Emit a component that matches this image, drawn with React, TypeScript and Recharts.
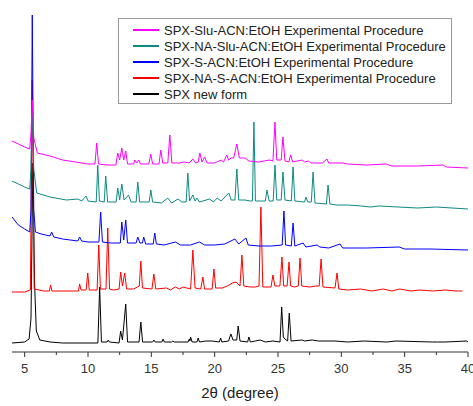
import React from "react";
import { LineChart, Line, XAxis, YAxis, Legend } from "recharts";

// 2θ (degree) vs intensity, one list per pattern
const BLACK_PTS: [number, number][] = [
  [4, 0], [5, 1], [5.35, 4], [5.5, 25], [5.65, 180], [5.78, 60], [5.92, 12], [6.2, 3], [7, 1], [8, 0],
  [10.78, 0], [10.92, 56], [11.06, 1], [11.5, 1], [11.6, 3], [11.7, 1], [12.45, 0], [12.58, 12], [12.72, 3],
  [12.98, 39], [13.12, 1], [14.03, 1], [14.17, 21], [14.31, 1], [15.1, 1], [15.2, 3], [15.3, 1], [15.83, 1],
  [15.93, 4], [16.03, 1], [16.6, 1], [16.7, 2], [16.8, 1], [17.9, 1], [18.0, 4], [18.05, 2], [18.1, 6],
  [18.22, 1], [18.6, 1], [18.7, 5], [18.8, 1], [19.3, 2], [19.8, 2], [20.37, 1], [20.47, 5], [20.57, 1],
  [21.1, 2], [21.28, 9], [21.45, 3], [21.74, 3], [21.86, 17], [22.0, 2], [22.6, 1], [22.7, 6], [22.82, 1],
  [23.2, 2], [23.6, 3], [24.0, 1], [24.6, 2], [25.16, 1], [25.29, 36], [25.42, 6], [25.55, 4], [25.76, 2],
  [25.89, 30], [26.03, 2], [26.9, 3], [27.1, 2], [27.7, 3], [28.2, 2], [29.5, 2], [30.5, 1], [31.8, 2],
  [33.6, 1], [34.3, 2], [37.2, 1], [37.6, 1], [38.2, 1], [39.9, 2], [40, 1],
];

const RED_PTS: [number, number][] = [
  [4, 0], [5, 0], [5.45, 2], [5.6, 212], [5.75, 3], [6.5, 1], [6.95, 1], [7.05, 7], [7.15, 1], [8.5, 1],
  [9.25, 1], [9.34, 8], [9.45, 2], [9.85, 2], [9.98, 19], [10.1, 2], [10.72, 2], [10.85, 47], [10.98, 3],
  [11.42, 3], [11.56, 64], [11.7, 3], [12.0, 2], [12.45, 3], [12.58, 20], [12.72, 6], [12.9, 19], [13.05, 3],
  [13.6, 3], [13.9, 5], [14.05, 6], [14.17, 31], [14.3, 4], [15.05, 3], [15.2, 18], [15.35, 3], [16.2, 4],
  [16.5, 2], [16.9, 5], [17.2, 3], [17.5, 5], [18.1, 3], [18.28, 42], [18.45, 4], [18.9, 3], [19.07, 15],
  [19.2, 3], [19.8, 3], [19.94, 23], [20.08, 4], [20.6, 4], [21.0, 6], [21.4, 9], [21.7, 10], [22.0, 6],
  [22.15, 37], [22.3, 6], [22.8, 5], [23.2, 5], [23.5, 6], [23.65, 85], [23.8, 5], [24.45, 5], [24.6, 17],
  [24.75, 6], [25.15, 6], [25.31, 35], [25.45, 6], [25.72, 6], [25.87, 30], [26.0, 6], [26.3, 5], [26.6, 6],
  [26.74, 34], [26.88, 6], [27.5, 5], [28.0, 6], [28.25, 6], [28.4, 33], [28.55, 5], [29.5, 4], [29.66, 19],
  [29.8, 3], [30.5, 2], [31.5, 3], [32.4, 1], [33.3, 3], [34.0, 1], [34.6, 3], [35.5, 1], [36.2, 2],
  [37.2, 1], [38.2, 2], [39.0, 1], [39.56, 1],
];

const BLUE_PTS: [number, number][] = [
  [4, 33], [4.5, 25], [5, 21], [5.4, 18], [5.5, 40], [5.6, 235], [5.72, 40], [5.85, 18], [6.3, 16], [7.0, 14],
  [7.13, 18], [7.3, 13], [8.0, 11], [9.2, 9], [9.34, 13], [9.5, 9], [10.0, 8], [10.86, 8], [11.0, 38],
  [11.14, 8], [11.8, 7], [12.55, 7], [12.67, 28], [12.82, 10], [12.98, 30], [13.12, 7], [13.8, 7],
  [13.93, 13], [14.1, 7], [14.3, 7], [14.4, 13], [14.55, 6], [15.15, 6], [15.27, 17], [15.4, 6], [16.0, 5],
  [16.9, 8], [17.3, 5], [18.1, 5], [18.8, 8], [19.2, 5], [20.0, 5], [20.8, 6], [21.6, 11], [21.9, 6],
  [22.47, 12], [22.65, 5], [23.5, 4], [24.5, 4], [25.33, 5], [25.47, 39], [25.6, 5], [26.05, 4], [26.19, 27],
  [26.33, 4], [26.98, 7], [27.2, 3], [28.09, 5], [28.3, 3], [29.0, 2], [29.9, 6], [30.1, 2], [32, 2],
  [34.56, 3], [35, 1], [37, 1], [40, 0],
];

const TEAL_PTS: [number, number][] = [
  [4, 28], [4.5, 25], [5, 22], [5.4, 20], [5.5, 40], [5.6, 109], [5.72, 40], [5.95, 16], [7.0, 12], [8.3, 9],
  [9.2, 10], [9.5, 8], [9.85, 13], [10.0, 8], [10.65, 7], [10.77, 44], [10.9, 8], [11.28, 7], [11.4, 33],
  [11.55, 7], [12.22, 7], [12.35, 21], [12.5, 9], [12.67, 25], [12.85, 9], [13.2, 14], [13.4, 7], [13.8, 7],
  [13.93, 27], [14.08, 7], [14.83, 7], [14.96, 19], [15.1, 7], [15.8, 6], [16.3, 11], [16.6, 6], [17.1, 10],
  [17.4, 7], [17.75, 7], [17.88, 36], [18.02, 8], [18.28, 14], [18.45, 8], [18.6, 11], [18.8, 7], [19.6, 10],
  [19.9, 7], [20.2, 11], [20.5, 8], [21.12, 16], [21.3, 9], [21.6, 9], [21.75, 40], [21.9, 9], [22.4, 9],
  [22.8, 8], [22.98, 8], [23.1, 87], [23.22, 8], [24.0, 8], [24.13, 19], [24.3, 8], [24.62, 8], [24.76, 44],
  [24.9, 9], [25.25, 9], [25.39, 37], [25.55, 9], [26.05, 8], [26.19, 42], [26.33, 8], [27.1, 7], [27.21, 12],
  [27.35, 7], [27.63, 7], [27.77, 37], [27.92, 6], [28.82, 5], [28.95, 24], [29.1, 5], [29.6, 4], [30.5, 4],
  [31.6, 3], [32.3, 2], [33, 3], [34.5, 2], [36, 1], [37.5, 2], [40, 0],
];

const MAGENTA_PTS: [number, number][] = [
  [4, 27], [4.5, 24], [5, 21], [5.4, 19], [5.5, 35], [5.6, 68], [5.72, 30], [6.0, 15], [7, 12], [8, 8],
  [9, 6], [10, 4], [10.55, 4], [10.69, 25], [10.83, 4], [11.5, 3], [12.2, 3], [12.35, 15], [12.5, 8],
  [12.67, 20], [12.82, 8], [12.98, 17], [13.12, 4], [13.6, 4], [13.7, 8], [13.85, 5], [14.0, 8], [14.15, 4],
  [14.8, 4], [14.96, 14], [15.1, 4], [15.6, 4], [15.75, 18], [15.9, 5], [16.3, 5], [16.46, 33], [16.62, 5],
  [17.2, 5], [17.6, 6], [18.0, 5], [18.28, 9], [18.5, 5], [18.7, 6], [18.83, 15], [19.0, 6], [19.2, 11],
  [19.4, 5], [20.0, 5], [20.5, 8], [20.7, 6], [20.96, 13], [21.1, 8], [21.3, 10], [21.5, 10], [21.75, 24],
  [21.95, 10], [22.4, 10], [22.7, 7], [23.5, 6], [24.3, 8], [24.6, 7], [24.76, 46], [24.9, 8], [25.25, 8],
  [25.39, 31], [25.55, 7], [25.85, 6], [26.0, 13], [26.15, 6], [26.9, 8], [27.1, 6], [27.4, 7], [27.6, 5],
  [28.5, 5], [28.87, 9], [29.0, 5], [30.13, 5], [30.5, 4], [32, 3], [33.53, 4], [34, 2], [36, 2],
  [38.04, 3], [38.3, 1], [40, 0],
];

const XTICKS = [5, 7.5, 10, 12.5, 15, 17.5, 20, 22.5, 25, 27.5, 30, 32.5, 35, 37.5, 40];

// legend order, top to bottom
const SERIES = [
  { name: "SPX-Slu-ACN:EtOH Experimental Procedure", color: "#ff00ff", pts: MAGENTA_PTS, offset: 184 },
  { name: "SPX-NA-Slu-ACN:EtOH Experimental Procedure", color: "#0f8a80", pts: TEAL_PTS, offset: 143 },
  { name: "SPX-S-ACN:EtOH Experimental Procedure", color: "#0000ff", pts: BLUE_PTS, offset: 102 },
  { name: "SPX-NA-S-ACN:EtOH Experimental Procedure", color: "#ff0000", pts: RED_PTS, offset: 60 },
  { name: "SPX new form", color: "#000000", pts: BLACK_PTS, offset: 9 },
];

const FONT = "'Liberation Sans', Arial, sans-serif";

const Tick = (props: any) => {
  const { x, y, payload } = props;
  const major = payload.value % 5 === 0;
  return (
    <g>
      <line x1={x} x2={x} y1={y} y2={y + (major ? 5 : 3)} stroke="#333" />
      {major && (
        <text x={x} y={y + 21} textAnchor="middle" fontSize={13} fill="#333" fontFamily={FONT}>
          {payload.value}
        </text>
      )}
    </g>
  );
};

const LegendBox = () => (
  <div
    style={{
      width: 332,
      height: 81,
      border: "1px solid #999",
      background: "#fff",
      paddingTop: 3,
      boxSizing: "content-box",
      fontFamily: FONT,
      fontSize: 13,
      color: "#222",
    }}
  >
    {SERIES.map((s) => (
      <div key={s.name} style={{ display: "flex", alignItems: "center", height: 16 }}>
        <div style={{ width: 26, height: 1.3, background: s.color, marginLeft: 14, marginRight: 5 }} />
        <span style={{ whiteSpace: "nowrap" }}>{s.name}</span>
      </div>
    ))}
  </div>
);

export default function App() {
  const drawOrder = [...SERIES].reverse();
  return (
    <div style={{ position: "absolute", left: 0, top: 0, background: "#fff" }}>
      <LineChart
        width={473}
        height={406}
        margin={{ top: 10, right: 5, bottom: 0, left: 12 }}
        style={{ fontFamily: FONT }}
      >
        <XAxis
          dataKey="x"
          type="number"
          domain={[4, 40]}
          ticks={XTICKS}
          interval={0}
          allowDataOverflow
          height={54}
          tickSize={0}
          tickMargin={0}
          tickLine={false}
          tick={<Tick />}
          axisLine={{ stroke: "#333" }}
          label={{
            value: "2θ (degree)",
            position: "insideBottom",
            offset: 8,
            fontSize: 15,
            fill: "#222",
            fontFamily: FONT,
          }}
        />
        <YAxis hide type="number" domain={[0, 342]} allowDataOverflow />
        <Legend
          layout="horizontal"
          verticalAlign="middle"
          align="center"
          content={<LegendBox />}
          wrapperStyle={{ position: "absolute", left: 118, top: 18, width: 336 }}
        />
        {drawOrder.map((s) => (
          <Line
            key={s.name}
            name={s.name}
            data={s.pts.map(([x, y]) => ({ x, y: y + s.offset }))}
            dataKey="y"
            type="linear"
            stroke={s.color}
            strokeWidth={1}
            dot={false}
            activeDot={false}
            isAnimationActive={false}
          />
        ))}
      </LineChart>
    </div>
  );
}
